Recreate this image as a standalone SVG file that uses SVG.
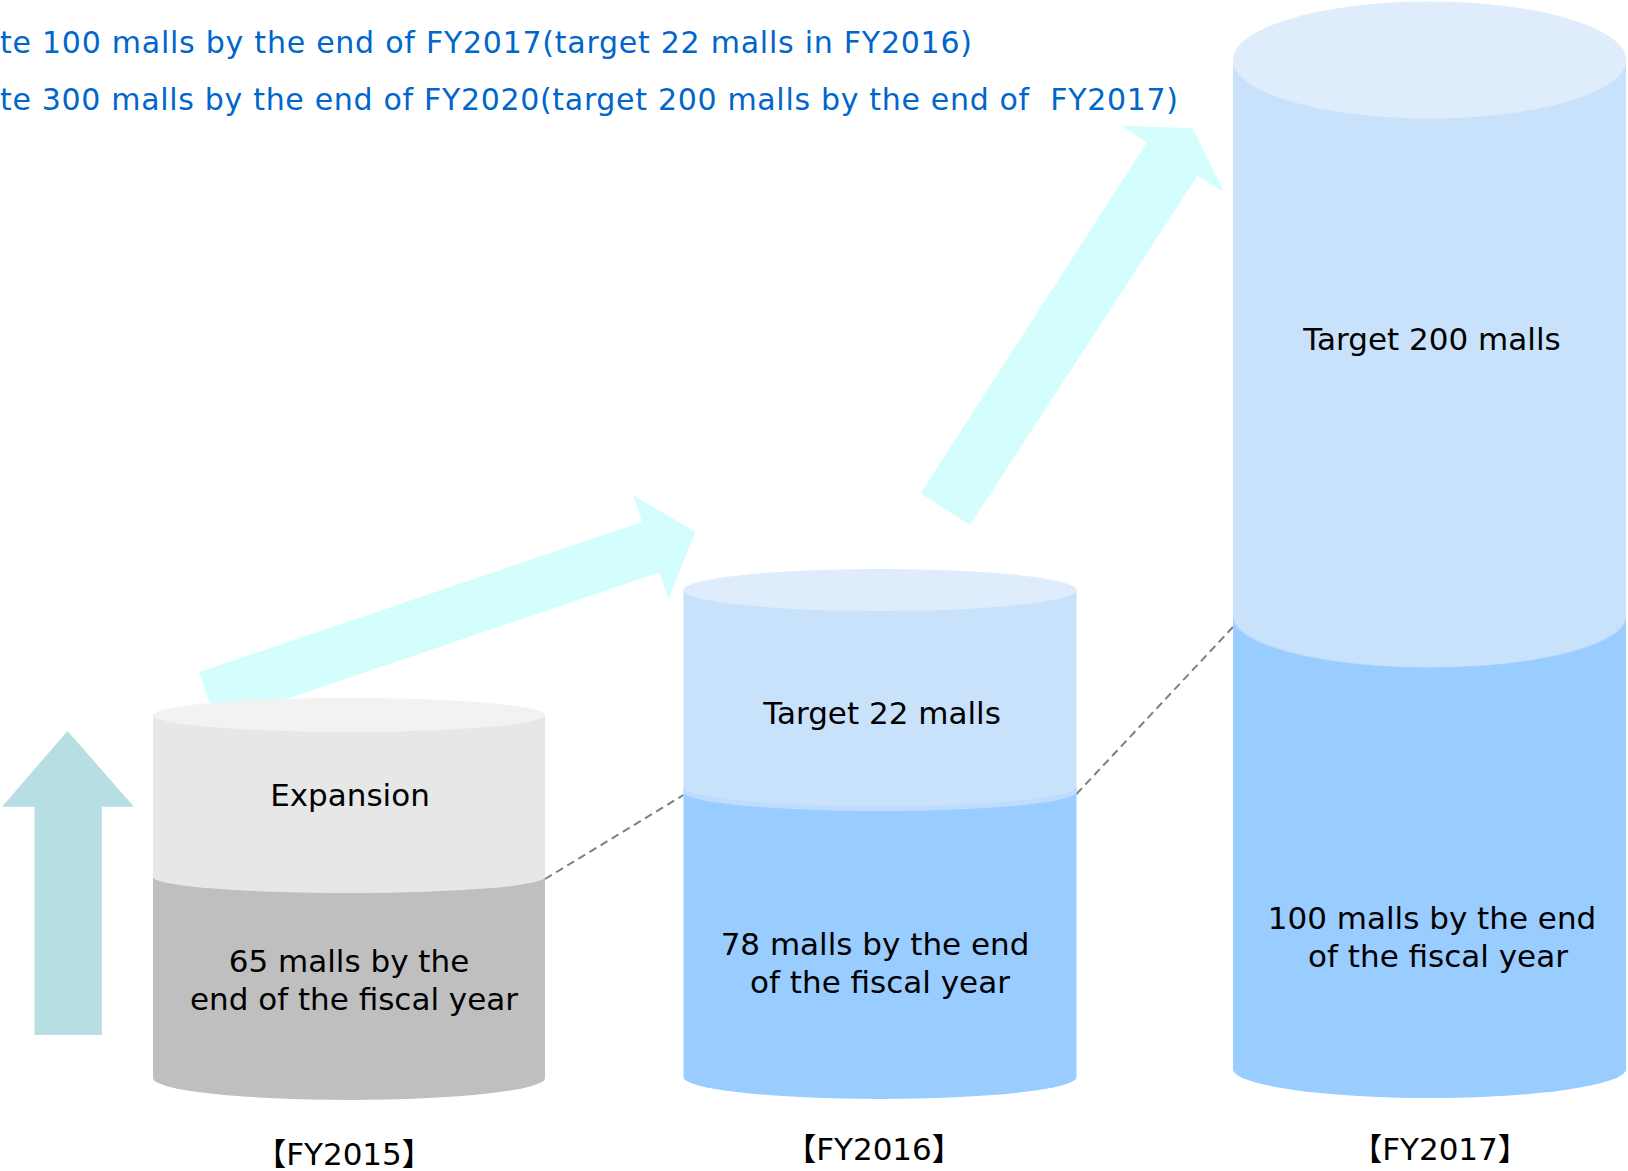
<svg xmlns="http://www.w3.org/2000/svg" width="1628" height="1171" viewBox="0 0 1628 1171">
<style>
.lbl{font-family:"DejaVu Sans","Noto Sans CJK JP",sans-serif;font-size:31px;fill:#000;text-anchor:middle}
.ttl{font-family:"DejaVu Sans","Noto Sans CJK JP",sans-serif;font-size:30px;fill:#0066CC}
.flow{fill:#D4FEFE}
.dash{stroke:#7F7F7F;stroke-width:2;stroke-dasharray:8 5;fill:none}
.g-top{fill:#F2F2F2}.g-light{fill:#E7E7E7}.g-dark{fill:#BFBFBF}
.b-top{fill:#DEECFC}.b-light{fill:#C9E2FC}.b-band{fill:#BEDCFD}.b-dark{fill:#99CCFF}
</style>
<rect width="1628" height="1171" fill="#FFFFFF"/>
<g id="titles">
<text class="ttl" x="0" y="53" textLength="972">te 100 malls by the end of FY2017(target 22 malls in FY2016)</text>
<text class="ttl" x="0" y="110" textLength="1178" xml:space="preserve">te 300 malls by the end of FY2020(target 200 malls by the end of  FY2017)</text>
</g>
<g id="growth-arrow">
<polygon points="67.5,731 134,806.7 101.8,806.7 101.8,1035 34.5,1035 34.5,806.7 2,806.7" fill="#B7DFE3"/>
</g>
<g id="connectors">
<polygon class="flow" points="199,672 642,522 633,495 695.5,532 668.4,599.4 659.2,572.5 216.4,722.7"/>
<polygon class="flow" points="920.7,493.3 1146.7,142.7 1121.7,125.7 1192.7,128.3 1224,191.7 1197.3,176 970,525"/>
<line class="dash" x1="545" y1="879" x2="683.5" y2="795"/>
<line class="dash" x1="1076.5" y1="794" x2="1233" y2="627"/>
</g>
<g id="fy2015">
<path class="g-dark" d="M153,877 L153,1078 A196,22 0 0 0 545,1078 L545,877 Z"/>
<path class="g-light" d="M153,715 L153,877 A196,16 0 0 0 545,877 L545,715 Z"/>
<ellipse class="g-top" cx="349" cy="715" rx="196" ry="17"/>
<text class="lbl" x="350" y="806">Expansion</text>
<text class="lbl" x="349" y="972">65 malls by the</text>
<text class="lbl" x="354" y="1010">end of the fiscal year</text>
<text class="lbl" x="344" y="1165">【FY2015】</text>
</g>
<g id="fy2016">
<path class="b-dark" d="M683.5,787 L683.5,1077 A196.5,22 0 0 0 1076.5,1077 L1076.5,787 Z"/>
<ellipse class="b-band" cx="880" cy="792" rx="196.5" ry="19"/>
<path class="b-light" d="M683.5,590 L683.5,787 A196.5,19 0 0 0 1076.5,787 L1076.5,590 Z"/>
<ellipse class="b-top" cx="880" cy="590" rx="196.5" ry="21"/>
<text class="lbl" x="882" y="724">Target 22 malls</text>
<text class="lbl" x="875" y="955">78 malls by the end</text>
<text class="lbl" x="880" y="993">of the fiscal year</text>
<text class="lbl" x="874" y="1160">【FY2016】</text>
</g>
<g id="fy2017">
<path class="b-dark" d="M1233,614 L1233,1069 A196.5,29 0 0 0 1626,1069 L1626,614 Z"/>
<ellipse class="b-band" cx="1429.5" cy="617" rx="196.5" ry="50.5"/>
<path class="b-light" d="M1233,60 L1233,614 A196.5,53 0 0 0 1626,614 L1626,60 Z"/>
<ellipse class="b-top" cx="1429.5" cy="60" rx="196.5" ry="58.5"/>
<text class="lbl" x="1432" y="350">Target 200 malls</text>
<text class="lbl" x="1432" y="929">100 malls by the end</text>
<text class="lbl" x="1438" y="967">of the fiscal year</text>
<text class="lbl" x="1440" y="1160">【FY2017】</text>
</g>
</svg>
